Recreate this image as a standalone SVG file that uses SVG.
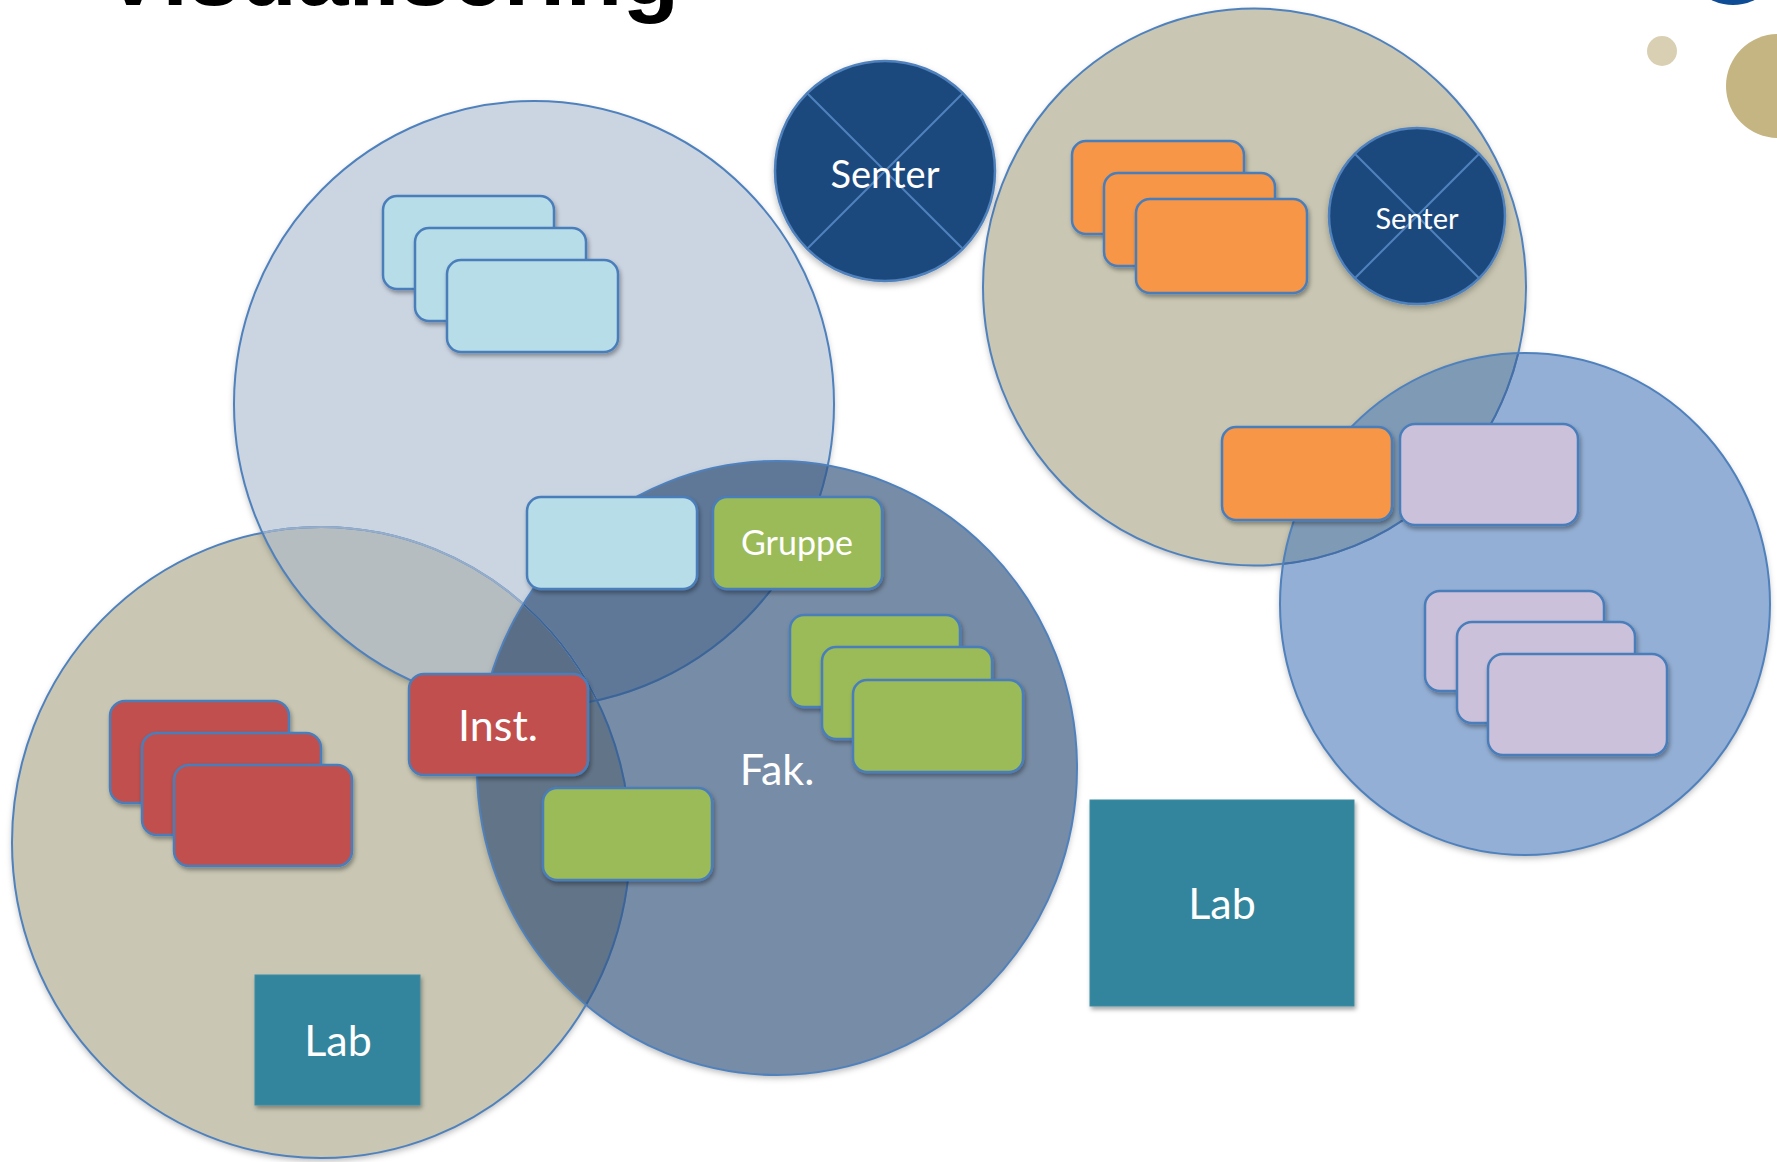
<svg xmlns="http://www.w3.org/2000/svg" xmlns:xlink="http://www.w3.org/1999/xlink" width="1777" height="1162" viewBox="0 0 1777 1162">
<style>
.lbl{font-family:Lato,"Open Sans","Noto Sans",sans-serif;fill:#FFFFFF;text-anchor:middle}
.box{stroke:#4A7EBB;stroke-width:2.5;filter:url(#shr)}
.lb{fill:#B7DDE8}
.gr{fill:#9BBB59}
.rd{fill:#C0504D}
.or{fill:#F79646}
.lv{fill:#CCC1DA}
.lab{fill:#31859C;stroke:#3E8CA2;stroke-width:1;filter:url(#shr)}
.edge{fill:none;stroke:#4F81BD;stroke-width:2}
.xline{stroke:#4F81BD;stroke-width:2}
.senter{fill:#1F497D;stroke:#4F81BD;stroke-width:2.5;filter:url(#sh)}
</style>
<defs>
<filter id="sh" x="-10%" y="-10%" width="120%" height="125%"><feDropShadow dx="0" dy="3" stdDeviation="3" flood-color="#000" flood-opacity="0.28"/></filter>
<filter id="shr" x="-10%" y="-10%" width="125%" height="135%"><feDropShadow dx="1.5" dy="3" stdDeviation="2" flood-color="#000" flood-opacity="0.35"/></filter>
<ellipse id="eB" cx="321" cy="842.5" rx="309" ry="315.5"/>
<ellipse id="eL" cx="534" cy="404" rx="300" ry="303"/>
<ellipse id="eF" cx="777" cy="768" rx="300" ry="307"/>
<ellipse id="eBR" cx="1254.5" cy="287" rx="271.5" ry="278.5"/>
<ellipse id="eR" cx="1525" cy="604" rx="245" ry="251"/>
<clipPath id="cB"><ellipse cx="321" cy="842.5" rx="309" ry="315.5"/></clipPath>
<clipPath id="cL"><ellipse cx="534" cy="404" rx="300" ry="303"/></clipPath>
<clipPath id="cF"><ellipse cx="777" cy="768" rx="300" ry="307"/></clipPath>
<clipPath id="cR"><ellipse cx="1525" cy="604" rx="245" ry="251"/></clipPath>
</defs>
<rect width="1777" height="1162" fill="#FFFFFF"/>
<g id="title">
<text x="102" y="5" font-family="Liberation Sans, Arial, sans-serif" font-weight="bold" font-size="93" fill="#000000">Visualisering</text>
</g>
<g id="decor">
<circle cx="1733" cy="-44" r="49" fill="#0E4C96"/>
<circle cx="1662" cy="51" r="15" fill="#D9D0B3"/>
<circle cx="1778" cy="86" r="52" fill="#C5B583"/>
</g>
<g id="regions-left">
<use href="#eB" fill="#C9C7B3" filter="url(#sh)"/>
<use href="#eL" fill="#CBD5E2" filter="url(#sh)"/>
<use href="#eB" fill="#B6BDC0" clip-path="url(#cL)"/>
<use href="#eF" fill="#778CA6" filter="url(#sh)"/>
<use href="#eF" fill="#627488" clip-path="url(#cB)"/>
<use href="#eF" fill="#5F7898" clip-path="url(#cL)"/>
<g clip-path="url(#cL)"><use href="#eF" fill="#5A6E88" clip-path="url(#cB)"/></g>
<use href="#eB" class="edge"/>
<use href="#eB" class="edge" style="stroke:#97AECB" clip-path="url(#cL)"/>
<use href="#eB" class="edge" style="stroke:#3D6494" clip-path="url(#cF)"/>
<use href="#eL" class="edge"/>
<use href="#eL" class="edge" style="stroke:#3D6494" clip-path="url(#cF)"/>
<use href="#eF" class="edge"/>
</g>
<g id="regions-right">
<use href="#eBR" fill="#C9C7B3" filter="url(#sh)"/>
<use href="#eR" fill="#93AFD5" filter="url(#sh)"/>
<use href="#eBR" fill="#7F9AB5" clip-path="url(#cR)"/>
<use href="#eBR" class="edge"/>
<use href="#eBR" class="edge" style="stroke:#456FA6" clip-path="url(#cR)"/>
<use href="#eR" class="edge"/>
</g>
<g id="connectors"></g>
<g id="senter-1">
<circle class="senter" cx="885" cy="171" r="110"/>
<line class="xline" x1="807.2" y1="93.2" x2="962.8" y2="248.8"/>
<line class="xline" x1="962.8" y1="93.2" x2="807.2" y2="248.8"/>
<text class="lbl" x="885" y="187.5" font-size="38">Senter</text>
</g>
<g id="senter-2">
<circle class="senter" cx="1417" cy="216" r="88"/>
<line class="xline" x1="1354.8" y1="153.8" x2="1479.2" y2="278.2"/>
<line class="xline" x1="1479.2" y1="153.8" x2="1354.8" y2="278.2"/>
<text class="lbl" x="1417" y="228.5" font-size="29">Senter</text>
</g>
<g id="lb-stack">
<rect class="box lb" x="383" y="196" width="171" height="93" rx="14"/>
<rect class="box lb" x="415" y="228" width="171" height="93" rx="14"/>
<rect class="box lb" x="447" y="260" width="171" height="92" rx="14"/>
</g>
<g id="lb-single"><rect class="box lb" x="527" y="497" width="170" height="92" rx="14"/></g>
<g id="gruppe">
<rect class="box gr" x="713" y="497" width="169" height="92" rx="14"/>
<text class="lbl" x="797" y="555" font-size="34">Gruppe</text>
</g>
<g id="green-stack">
<rect class="box gr" x="790" y="615" width="170" height="92" rx="14"/>
<rect class="box gr" x="822" y="647" width="170" height="92" rx="14"/>
<rect class="box gr" x="853" y="680" width="170" height="92" rx="14"/>
</g>
<g id="green-single"><rect class="box gr" x="543" y="788" width="169" height="92" rx="14"/></g>
<g id="inst">
<rect class="box rd" x="409" y="674" width="179" height="101" rx="15"/>
<text class="lbl" x="498" y="741" font-size="43">Inst.</text>
</g>
<g id="red-stack">
<rect class="box rd" x="110" y="701" width="179" height="102" rx="15"/>
<rect class="box rd" x="142" y="733" width="179" height="102" rx="15"/>
<rect class="box rd" x="174" y="765" width="178" height="101" rx="15"/>
</g>
<g id="fak-label"><text class="lbl" x="777" y="785" font-size="43">Fak.</text></g>
<g id="lab-1">
<rect class="lab" x="255" y="975" width="165" height="130"/>
<text class="lbl" x="338" y="1056" font-size="43">Lab</text>
</g>
<g id="lab-2">
<rect class="lab" x="1090" y="800" width="264" height="206"/>
<text class="lbl" x="1222" y="919" font-size="43">Lab</text>
</g>
<g id="orange-stack">
<rect class="box or" x="1072" y="141" width="172" height="93" rx="14"/>
<rect class="box or" x="1104" y="173" width="171" height="93" rx="14"/>
<rect class="box or" x="1136" y="199" width="171" height="94" rx="14"/>
</g>
<g id="orange-single"><rect class="box or" x="1222" y="427" width="170" height="93" rx="14"/></g>
<g id="lavender-single"><rect class="box lv" x="1400" y="424" width="178" height="101" rx="15"/></g>
<g id="lavender-stack">
<rect class="box lv" x="1425" y="591" width="179" height="100" rx="15"/>
<rect class="box lv" x="1457" y="622" width="178" height="101" rx="15"/>
<rect class="box lv" x="1488" y="654" width="179" height="101" rx="15"/>
</g>
</svg>
